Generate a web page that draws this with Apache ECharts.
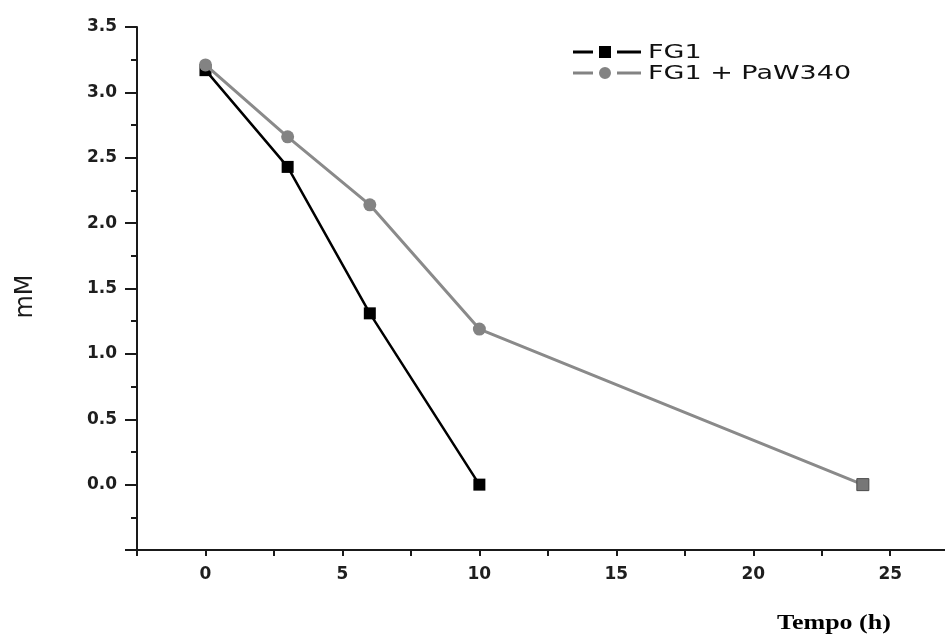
<!DOCTYPE html>
<html>
<head>
<meta charset="utf-8">
<script src="https://cdn.jsdelivr.net/npm/echarts@6/dist/echarts.min.js"></script>
<style>
  html, body { margin: 0; padding: 0; background: #fff; }
  #chart { width: 945px; height: 640px; }
</style>
</head>
<body>
<div id="chart"></div>
<script>
// Time points (h) and concentrations (mM)
const timeFG1 = [0, 3, 6, 10];
const valuesFG1 = [3.17, 2.43, 1.31, 0.0];
const timePaW = [0, 3, 6, 10, 24];
const valuesPaW = [3.21, 2.66, 2.14, 1.19, 0.0];

const xLabelValues = [0, 5, 10, 15, 20, 25];
const xTickValues = [-2.5, 0, 2.5, 5, 7.5, 10, 12.5, 15, 17.5, 20, 22.5, 25];

const seriesNames = ['FG1', 'FG1 + PaW340'];
const xTitle = 'Tempo (h)';
const yTitle = 'mM';

// Legend keys: dash, marker, dash (68 x 12 box)
const iconSquare = 'path://M0,4.5h20v3h-20z M26,0h12v12h-12z M44,4.5h24v3h-24z';
const iconCircle = 'path://M0,4.5h20v3h-20z M38,6a6,6 0 1,1 -12,0a6,6 0 1,1 12,0z M44,4.5h24v3h-24z';

const chart = echarts.init(document.getElementById('chart'));

const tickFont = { fontFamily: 'DejaVu Sans', fontWeight: 'bold', fontSize: 17, color: '#1e1e1e' };
const axisColor = '#1a1a1a';

function legendAt(name, icon, top) {
  return {
    left: 573, top: top, padding: 0, itemWidth: 68, itemHeight: 12,
    formatter: () => '',
    selectedMode: false,
    data: [{ name: name, icon: icon }]
  };
}

chart.setOption({
  animation: false,
  backgroundColor: '#fff',
  grid: { left: 137, right: 0, top: 27, bottom: 90 },
  legend: [
    legendAt(seriesNames[0], iconSquare, 46),
    legendAt(seriesNames[1], iconCircle, 67)
  ],
  xAxis: {
    type: 'value', min: -2.5, max: 27,
    axisLine: { onZero: false, lineStyle: { color: axisColor, width: 2 } },
    axisTick: { show: true, customValues: xTickValues, length: 6, lineStyle: { color: axisColor, width: 2 } },
    axisLabel: { customValues: xLabelValues, margin: 16, ...tickFont },
    splitLine: { show: false }
  },
  yAxis: {
    type: 'value', min: -0.5, max: 3.5, interval: 0.5,
    name: yTitle, nameLocation: 'middle', nameGap: 99, nameRotate: 90,
    nameTextStyle: { fontFamily: 'DejaVu Sans', fontSize: 24, color: '#1a1a1a', padding: [0, 16, 0, 0] },
    axisLine: { show: true, onZero: false, lineStyle: { color: axisColor, width: 2 } },
    axisTick: { show: true, length: 12, lineStyle: { color: axisColor, width: 2 } },
    minorTick: { show: true, splitNumber: 2, length: 6, lineStyle: { color: axisColor, width: 2 } },
    axisLabel: {
      margin: 20, ...tickFont,
      formatter: v => (v < 0 ? '' : v.toFixed(1))
    },
    splitLine: { show: false },
    minorSplitLine: { show: false }
  },
  series: [
    {
      name: seriesNames[0], type: 'line',
      data: timeFG1.map((t, i) => [t, valuesFG1[i]]),
      symbol: 'rect', symbolSize: 12,
      itemStyle: { color: '#000' },
      lineStyle: { color: '#000', width: 2.5 },
      z: 2
    },
    {
      name: seriesNames[1], type: 'line',
      data: timePaW.map((t, i) => {
        const point = { value: [t, valuesPaW[i]] };
        if (i === timePaW.length - 1) {
          point.symbol = 'rect';
          point.symbolSize = 12;
          point.itemStyle = { color: '#777', borderColor: '#4a4a4a', borderWidth: 1 };
        }
        return point;
      }),
      symbol: 'circle', symbolSize: 13,
      itemStyle: { color: '#838383' },
      lineStyle: { color: '#8a8a8a', width: 3 },
      z: 3
    }
  ],
  graphic: [
    {
      type: 'text', x: 648, y: 53, scaleX: 1.42,
      style: { text: seriesNames[0], fill: '#111', font: '19px "DejaVu Sans"', verticalAlign: 'middle' }
    },
    {
      type: 'text', x: 648, y: 74, scaleX: 1.42,
      style: { text: seriesNames[1], fill: '#111', font: '19px "DejaVu Sans"', verticalAlign: 'middle' }
    },
    {
      type: 'text', x: 777, y: 624, scaleX: 1.3,
      style: { text: xTitle, fill: '#000', font: 'bold 20px "Liberation Serif"', verticalAlign: 'middle' }
    }
  ]
});
</script>
</body>
</html>
